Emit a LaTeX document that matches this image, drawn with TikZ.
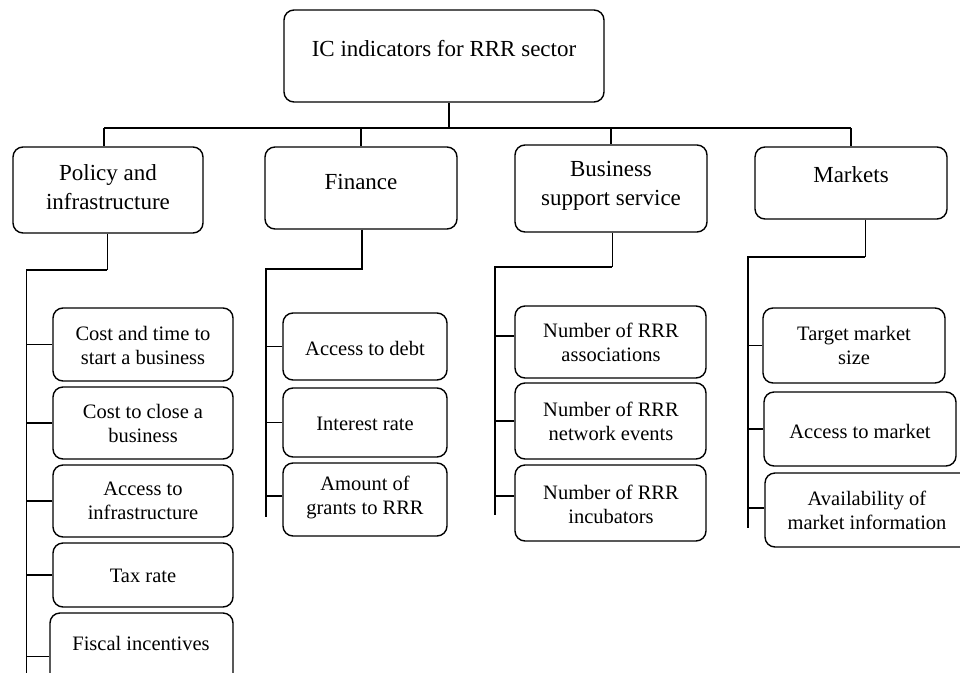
\documentclass[tikz,border=0pt]{standalone}
\usepackage{fontspec}
\setmainfont{Liberation Serif}
\newcommand\mkbox[5]{%
  \node[box, minimum width={(#4-#2)*1pt}, minimum height={(#5-#3)*1pt}] (#1) at ({(#2+#4)/2},{(#3+#5)/2}) {};}
\begin{document}
\begin{tikzpicture}[x=1pt,y=-1pt,
  box/.style={draw, rounded corners=10pt, line width=1.4pt, inner sep=0pt},
  lbl/.style={align=center, font=\fontsize{20.5}{24}\selectfont, inner sep=0pt},
  biglbl/.style={lbl, font=\fontsize{23}{28.5}\selectfont},
  busline/.style={line width=1.6pt},
  thinline/.style={line width=0.9pt}]
\clip (0,0) rectangle (960,672);
\fill[white] (0,0) rectangle (960,672);
% level 0 and 1
\mkbox{top}{284}{10}{604}{102}
\node[biglbl] (topt) at (444,49) {IC indicators for RRR sector};
\mkbox{pol}{13}{147}{203}{233}
\node[biglbl] (polt) at (108,187) {Policy and\\infrastructure};
\mkbox{fin}{265}{147}{457}{229}
\node[biglbl] (fint) at (361,182) {Finance};
\mkbox{bss}{515}{145}{707}{232}
\node[biglbl] (bsst) at (611,186) {Business\\support service};
\mkbox{mkt}{755}{147}{947}{219}
\node[biglbl] (mktt) at (851,175) {Markets};
% policy children
\mkbox{p1}{53}{308}{233}{381}
\node[lbl] (p1t) at (143,345) {Cost and time to\\start a business};
\mkbox{p2}{53}{387}{233}{459}
\node[lbl] (p2t) at (143,423) {Cost to close a\\business};
\mkbox{p3}{53}{465}{233}{537}
\node[lbl] (p3t) at (143,501) {Access to\\infrastructure};
\mkbox{p4}{53}{543}{233}{607}
\node[lbl] (p4t) at (143,576) {Tax rate};
\mkbox{p5}{50}{613}{233}{700}
\node[lbl] (p5t) at (141,643) {Fiscal incentives};
% finance children
\mkbox{f1}{283}{313}{447}{380}
\node[lbl] (f1t) at (365,348) {Access to debt};
\mkbox{f2}{283}{388}{447}{457}
\node[lbl] (f2t) at (365,424) {Interest rate};
\mkbox{f3}{283}{463}{447}{536}
\node[lbl] (f3t) at (365,497) {Amount of\\grants to RRR};
% business children
\mkbox{b1}{515}{306}{706}{378}
\node[lbl] (b1t) at (611,342) {Number of RRR\\associations};
\mkbox{b2}{515}{383}{706}{459}
\node[lbl] (b2t) at (611,421) {Number of RRR\\network events};
\mkbox{b3}{515}{465}{706}{541}
\node[lbl] (b3t) at (611,504) {Number of RRR\\incubators};
% markets children
\mkbox{m1}{763}{308}{945}{383}
\node[lbl] (m1t) at (854,345) {Target market\\size};
\mkbox{m2}{764}{392}{956}{466}
\node[lbl] (m2t) at (860,431) {Access to market};
\mkbox{m3}{765}{473}{980}{547}
\node[lbl] (m3t) at (867,510) {Availability of\\market information};
% main bus
\coordinate (j0) at (449,128);
\coordinate (bL) at (104,128);
\coordinate (bR) at (851,128);
\draw[busline] (top.south -| j0) -- (j0);
\draw[busline] (bL) -- (bR);
\draw[busline] (bL) -- (bL |- pol.north);
\draw[busline] (fin.north |- bL) -- (fin.north);
\draw[busline] (bss.north |- bL) -- (bss.north);
\draw[busline] (bR) -- (bR |- mkt.north);
% policy subtree
\coordinate (ps) at (107,270);
\coordinate (pv) at (26,270);
\coordinate (pe) at (26,680);
\draw[thinline] (ps |- pol.south) -- (ps);
\draw[busline] (ps) -- (pv);
\draw[thinline] (pv) -- (pe);
\foreach \c in {p1,p2,p3,p4,p5}
  \draw[busline] (\c.west) -- (\c.west -| pv);
% finance subtree
\coordinate (fs) at (362,269);
\coordinate (fv) at (266,269);
\coordinate (fe) at (266,517);
\draw[busline] (fs |- fin.south) -- (fs) -- (fv) -- (fe);
\draw[busline] (f1.west) -- (f1.west -| fv);
\draw[busline] (f2.west) -- (f2.west -| fv);
\draw[busline] ([yshift=3.5pt]f3.west) -- ([yshift=3.5pt]f3.west -| fv);
% business subtree
\coordinate (bs) at (612,267);
\coordinate (bv) at (495,267);
\coordinate (be) at (495,515);
\draw[thinline] (bs |- bss.south) -- (bs);
\draw[busline] (bs) -- (bv) -- (be);
\draw[busline] ([yshift=6pt]b1.west) -- ([yshift=6pt]b1.west -| bv);
\draw[busline] (b2.west) -- (b2.west -| bv);
\draw[busline] ([yshift=7pt]b3.west) -- ([yshift=7pt]b3.west -| bv);
% markets subtree
\coordinate (ms) at (865,257);
\coordinate (mv) at (748,257);
\coordinate (me) at (748,528);
\draw[thinline] (ms |- mkt.south) -- (ms);
\draw[busline] (ms) -- (mv) -- (me);
\draw[busline] (m1.west) -- (m1.west -| mv);
\draw[busline] (m2.west) -- (m2.west -| mv);
\draw[busline] ([yshift=2pt]m3.west) -- ([yshift=2pt]m3.west -| mv);
\end{tikzpicture}
\end{document}
